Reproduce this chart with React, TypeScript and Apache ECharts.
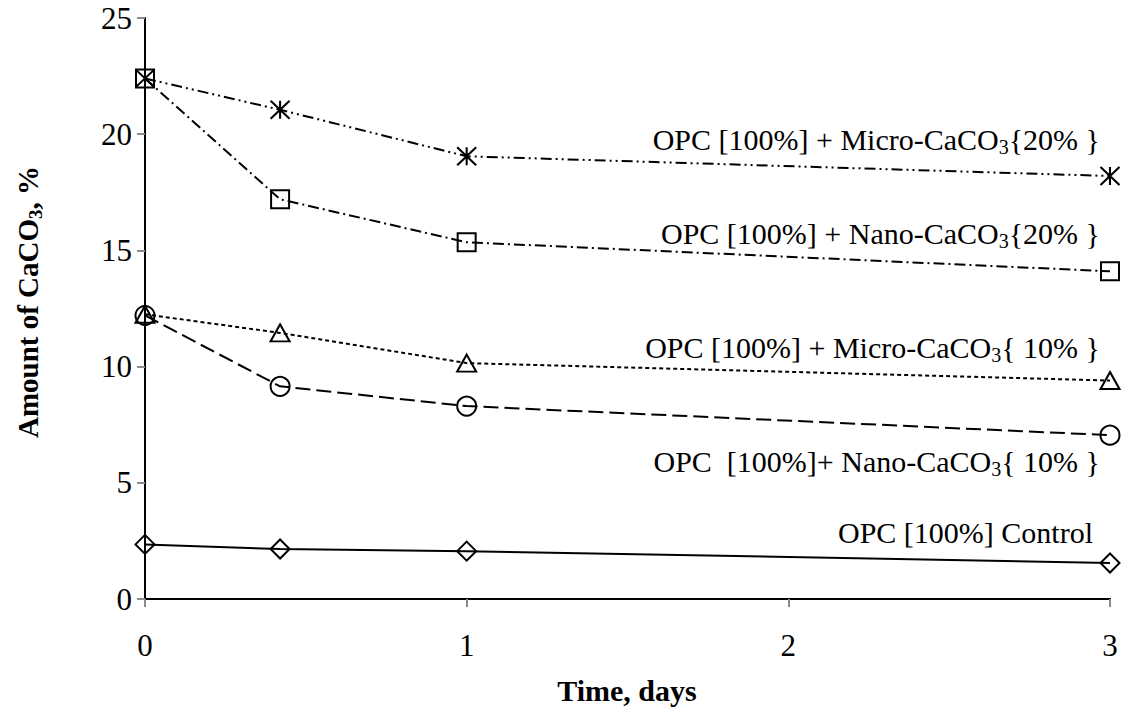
import React, { useEffect, useRef } from "react";
import * as echarts from "echarts";

const days = [0, 0.42, 1, 3];
const control = [2.35, 2.15, 2.06, 1.55];
const nano10 = [12.2, 9.15, 8.3, 7.05];
const micro10 = [12.25, 11.45, 10.15, 9.4];
const nano20 = [22.4, 17.2, 15.35, 14.1];
const micro20 = [22.4, 21.05, 19.05, 18.2];

const xTicks = [0, 1, 2, 3];
const yTicks = [0, 5, 10, 15, 20, 25];

// label text split around the subscript "3"
const labelMicro20 = ["OPC [100%] + Micro-CaCO", "3", "{20% }"];
const labelNano20 = ["OPC [100%] + Nano-CaCO", "3", "{20% }"];
const labelMicro10 = ["OPC [100%] + Micro-CaCO", "3", "{ 10% }"];
const labelNano10 = ["OPC  [100%]+ Nano-CaCO", "3", "{ 10% }"];
const labelControl = ["OPC [100%] Control", "", ""];
const yName = ["Amount of CaCO", "3", ", %"];

const FONT = "Times New Roman";
const FONT_BOLD = "Liberation Serif";
const ASTERISK = "path://M0,0L10,10M10,0L0,10M5,0L5,10";

function pairs(ys: number[]) {
  return ys.map((y, i) => [days[i], y]);
}

function richLabel(parts: string[]) {
  return parts[1] ? `${parts[0]}{s|${parts[1]}}${parts[2]}` : parts[0];
}

export default function App() {
  const ref = useRef<HTMLDivElement>(null);
  useEffect(() => {
    if (!ref.current) return;
    const chart = echarts.init(ref.current, null, { renderer: "svg" });
    const mk = (name: string, data: number[], symbol: string, size: number | number[], dash: any) => ({
      name,
      type: "line",
      data: pairs(data),
      symbol,
      symbolSize: size,
      showSymbol: true,
      itemStyle: { color: "none", borderColor: "#000", borderWidth: 2 },
      lineStyle: { color: "#000", width: 2, type: dash },
    });
    const label = (parts: string[], x: number, y: number) => ({
      type: "text",
      x,
      y,
      style: {
        text: richLabel(parts),
        fontFamily: FONT,
        fontSize: 30,
        fill: "#000",
        align: "right",
        verticalAlign: "middle",
        lineHeight: 36,
        rich: {
          s: { fontFamily: FONT, fontSize: 20, lineHeight: 36, verticalAlign: "bottom" },
        },
      },
    });
    const tickLabel = { fontFamily: FONT, fontSize: 31, color: "#000" };
    chart.setOption({
      animation: false,
      textStyle: { fontFamily: FONT },
      grid: { left: 145, right: 15, top: 18, bottom: 114 },
      xAxis: [
        {
          type: "value",
          min: xTicks[0],
          max: xTicks[xTicks.length - 1],
          interval: 1,
          axisLine: { lineStyle: { color: "#8c8c8c", width: 2 } },
          axisTick: { show: true, length: 8, lineStyle: { color: "#8c8c8c", width: 2 } },
          axisLabel: { ...tickLabel, margin: 31 },
          splitLine: { show: false },
        },
        {
          type: "value",
          position: "top",
          min: 0,
          max: 3,
          axisLine: { show: true, lineStyle: { color: "#000", width: 2 } },
          axisTick: { show: false },
          axisLabel: { show: false },
          splitLine: { show: false },
        },
      ],
      yAxis: [
        {
          type: "value",
          min: yTicks[0],
          max: yTicks[yTicks.length - 1],
          interval: 5,
          axisLine: { show: true, lineStyle: { color: "#8c8c8c", width: 2 } },
          axisTick: { show: true, length: 8, lineStyle: { color: "#8c8c8c", width: 2 } },
          axisLabel: { ...tickLabel, margin: 13 },
          splitLine: { show: false },
        },
        {
          type: "value",
          position: "right",
          min: 0,
          max: 25,
          axisLine: { show: true, lineStyle: { color: "#000", width: 2 } },
          axisTick: { show: false },
          axisLabel: { show: false },
          splitLine: { show: false },
        },
      ],
      series: [
        mk("OPC [100%] Control", control, "diamond", 19, "solid"),
        mk("OPC [100%] + Nano-CaCO3{10%}", nano10, "circle", 19, [15, 6]),
        mk("OPC [100%] + Micro-CaCO3{10%}", micro10, "triangle", [19, 17], [4, 3]),
        mk("OPC [100%] + Nano-CaCO3{20%}", nano20, "rect", 18, [11, 4, 2, 4]),
        mk("OPC [100%] + Micro-CaCO3{20%}", micro20, ASTERISK, [19, 18], [11, 4, 2, 4, 2, 4]),
      ],
      graphic: [
        label(labelMicro20, 1100, 139),
        label(labelNano20, 1100, 233),
        label(labelMicro10, 1100, 347),
        label(labelNano10, 1100, 461),
        label(labelControl, 1093, 532),
        {
          type: "text",
          x: 627,
          y: 690,
          style: {
            text: "Time, days",
            fontFamily: FONT_BOLD,
            fontSize: 30,
            fontWeight: "bold",
            fill: "#000",
            align: "center",
            verticalAlign: "middle",
          },
        },
        {
          type: "text",
          x: 28,
          y: 302,
          rotation: Math.PI / 2,
          style: {
            text: richLabel(yName),
            fontFamily: FONT_BOLD,
            fontSize: 29,
            fontWeight: "bold",
            fill: "#000",
            align: "center",
            verticalAlign: "middle",
            lineHeight: 34,
            rich: { s: { fontFamily: FONT_BOLD, fontSize: 19, fontWeight: "bold", lineHeight: 34, verticalAlign: "bottom" } },
          },
        },
      ],
    });
    return () => chart.dispose();
  }, []);
  return <div ref={ref} style={{ position: "absolute", left: 0, top: 0, width: 1125, height: 713 }} />;
}
